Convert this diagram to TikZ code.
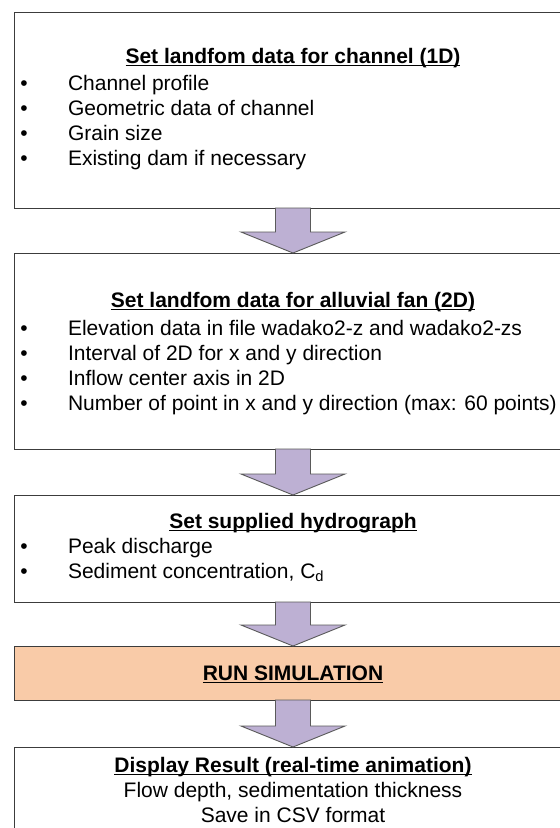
\documentclass[tikz,border=0pt]{standalone}
\usepackage{fontspec}
\setmainfont{Liberation Sans}
\usetikzlibrary{calc}
\definecolor{boxline}{HTML}{3C3C3C}
\definecolor{arrline}{HTML}{5A5A5A}
\definecolor{arrfill}{HTML}{BDB0D3}
\definecolor{runfill}{HTML}{F9CBA8}
\newcommand\ultitle[1]{\setbox0\hbox{#1}\rlap{\rule[-3.2pt]{\wd0}{1.4pt}}\box0}
\newcommand\blockarrow[2]{%
  \draw[arrowshape] let \p1=(#1.south), \p2=(#2.north) in
    (\x1-17.5pt,\y1) -- (\x1-17.5pt,\y2+21pt) -- (\x1-52pt,\y2+21pt) --
    (\x1,\y2) -- (\x1+52pt,\y2+21pt) -- (\x1+17.5pt,\y2+21pt) --
    (\x1+17.5pt,\y1) -- cycle;}
\begin{document}
\begin{tikzpicture}[x=1pt,y=-1pt,
  boxshape/.style={draw=boxline, line width=1pt, minimum width=558pt, inner sep=0pt, outer sep=0pt},
  arrowshape/.style={draw=arrline, fill=arrfill, line width=0.9pt, line join=miter},
  txt/.style={inner sep=0pt, outer sep=0pt, font=\fontsize{21}{25}\selectfont},
  titletxt/.style={txt, anchor=base, font=\fontsize{21}{25}\selectfont\bfseries},
  itemtxt/.style={txt, anchor=base west},
  bul/.style={txt, anchor=base}]
\useasboundingbox (0,0) rectangle (560,828);
\clip (0,0) rectangle (560,828);
\fill[white] (0,0) rectangle (560,828);
% boxes
\node[boxshape, minimum height=196pt] (b1) at (293,110) {};
\node[boxshape, minimum height=196pt] (b2) at (293,351) {};
\node[boxshape, minimum height=107pt] (b3) at (293,548.5) {};
\node[boxshape, minimum height=54pt, fill=runfill] (b4) at (293,673) {};
\node[boxshape, minimum height=123pt] (b5) at (293,808.5) {};
% arrows
\blockarrow{b1}{b2}
\blockarrow{b2}{b3}
\blockarrow{b3}{b4}
\blockarrow{b4}{b5}
% box 1
\node[titletxt] (t1) at (293,63) {\ultitle{Set landfom data for channel (1D)}};
\node[bul] (p11) at (24,90) {•};
\node[itemtxt] (i11) at (68,90) {Channel profile};
\node[bul] (p12) at (24,115) {•};
\node[itemtxt] (i12) at (68,115) {Geometric data of channel};
\node[bul] (p13) at (24,140) {•};
\node[itemtxt] (i13) at (68,140) {Grain size};
\node[bul] (p14) at (24,165) {•};
\node[itemtxt] (i14) at (68,165) {Existing dam if necessary};
% box 2
\node[titletxt] (t2) at (293,307) {\ultitle{Set landfom data for alluvial fan (2D)}};
\node[bul] (p21) at (24,335) {•};
\node[itemtxt] (i21) at (68,335) {Elevation data in file wadako2-z and wadako2-zs};
\node[bul] (p22) at (24,360) {•};
\node[itemtxt] (i22) at (68,360) {Interval of 2D for x and y direction};
\node[bul] (p23) at (24,385) {•};
\node[itemtxt] (i23) at (68,385) {Inflow center axis in 2D};
\node[bul] (p24) at (24,410) {•};
\node[itemtxt] (i24) at (68,410) {Number of point in x and y direction (max: 60 points)};
% box 3
\node[titletxt] (t3) at (293,528) {\ultitle{Set supplied hydrograph}};
\node[bul] (p31) at (24,553) {•};
\node[itemtxt] (i31) at (68,553) {Peak discharge};
\node[bul] (p32) at (24,578) {•};
\node[itemtxt] (i32) at (68,578) {Sediment concentration, C\textsubscript{d}};
% box 4
\node[titletxt] (t4) at (293,680) {\ultitle{RUN SIMULATION}};
% box 5
\node[titletxt] (t5) at (293,772) {\ultitle{Display Result (real-time animation)}};
\node[txt, anchor=base] (l51) at (293,797) {Flow depth, sedimentation thickness};
\node[txt, anchor=base] (l52) at (293,822) {Save in CSV format};
\end{tikzpicture}
\end{document}
